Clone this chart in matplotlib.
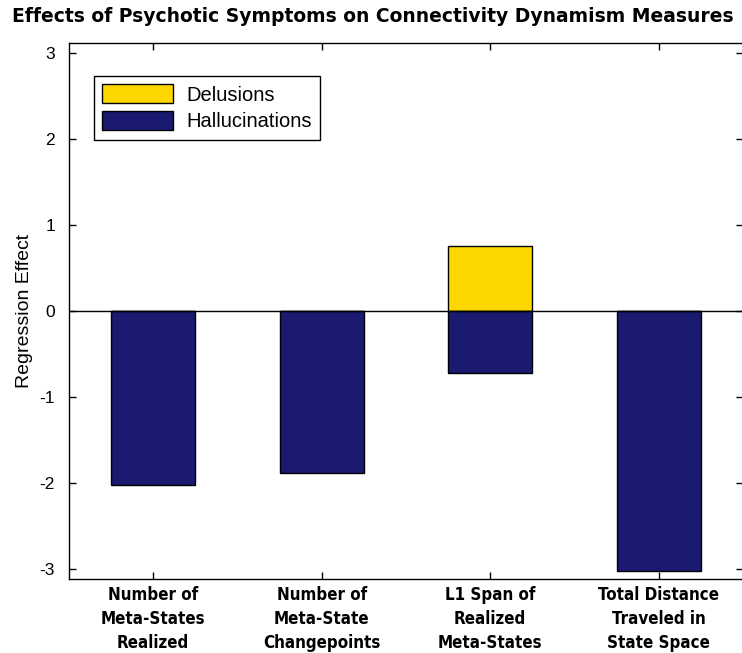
import numpy as np
import matplotlib
matplotlib.use('Agg')
import matplotlib.pyplot as plt
from matplotlib import font_manager

categories = ["Number of\nMeta-States\nRealized",
              "Number of\nMeta-State\nChangepoints",
              "L1 Span of\nRealized\nMeta-States",
              "Total Distance\nTraveled in\nState Space"]
delusions = [0.0, 0.0, 0.76, 0.0]
hallucinations = [-2.03, -1.89, -0.725, -3.03]
yticks = [-3, -2, -1, 0, 1, 2, 3]

yellow = '#FFD700'
navy = '#1A1A70'

plt.rcParams['font.family'] = ['Liberation Sans', 'DejaVu Sans']

# narrow bold font for the category labels, whatever is around
names = set(f.name for f in font_manager.fontManager.ttflist)
cond = [f for f in font_manager.fontManager.ttflist
        if f.name == 'DejaVu Sans' and f.stretch == 'condensed' and f.weight in (700, 'bold')]
if 'Liberation Sans Narrow' in names:
    xfont = dict(family=['Liberation Sans Narrow'], fontsize=14, fontweight='bold')
elif cond:
    xfont = dict(family=['DejaVu Sans'], fontstretch='condensed', fontsize=12.2, fontweight='bold')
else:
    xfont = dict(family=['Liberation Sans'], fontsize=12, fontweight='bold')

fig = plt.figure(figsize=(7.42, 6.53), dpi=100)
ax = fig.add_axes([69 / 742, 74 / 653, 674 / 742, 536 / 653])

x = np.arange(1, len(categories) + 1)
ax.bar(x, delusions, width=0.5, color=yellow, edgecolor='black', linewidth=1, label='Delusions', zorder=2)
ax.bar(x, hallucinations, width=0.5, color=navy, edgecolor='black', linewidth=1, label='Hallucinations', zorder=2)
ax.axhline(0, color='black', linewidth=1, zorder=3)

ax.set_xlim(0.5, 4.5)
ax.set_ylim(-3.12, 3.12)
ax.set_yticks(yticks)
ax.set_yticklabels([str(t) for t in yticks], fontsize=12.5)
ax.set_xticks(x)
ax.set_xticklabels(categories, linespacing=1.42, **xfont)
ax.tick_params(direction='in', length=5, width=1, top=True, right=True)
ax.tick_params(axis='y', pad=10)
ax.tick_params(axis='x', pad=5)
for s in ax.spines.values():
    s.set_linewidth(1)

ax.set_ylabel('Regression Effect', fontsize=14, labelpad=5)

fig.text(373 / 742, 1 - 17 / 653, 'Effects of Psychotic Symptoms on Connectivity Dynamism Measures',
         ha='center', va='center', fontsize=13.5, fontweight='bold', family='DejaVu Sans')

leg = ax.legend(loc='upper left', bbox_to_anchor=(0.037, 0.939), borderaxespad=0,
                fontsize=14.5, handlelength=3.5, handleheight=1.1, handletextpad=0.65,
                labelspacing=0.3, borderpad=0.42, fancybox=False, framealpha=1)
leg.get_frame().set_edgecolor('black')
leg.get_frame().set_linewidth(1)

fig.savefig('out.png', dpi=100)
